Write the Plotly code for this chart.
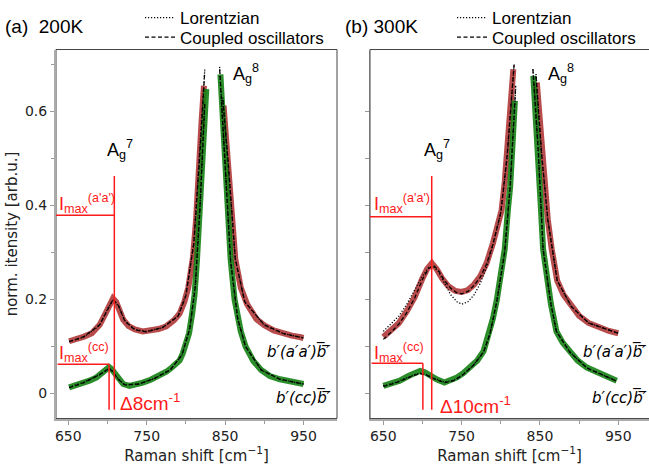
import plotly.graph_objects as go

# ---------------- data ----------------
# Panel (a) 200K, b'(a'a')b' data
x_aa200 = [651, 660, 670, 680, 690, 698, 703, 707, 711, 715, 720, 727, 735, 745, 755, 765, 775, 785, 792, 798, 803, 809, 813, 816, 820, 823,
           None, 848, 851, 854, 858, 863, 870, 878, 890, 900, 912, 925, 935, 945, 950]
y_aa200 = [0.111, 0.115, 0.121, 0.128, 0.146, 0.172, 0.192, 0.202, 0.195, 0.180, 0.157, 0.143, 0.136, 0.132, 0.133, 0.137, 0.143, 0.156, 0.170, 0.195, 0.225, 0.290, 0.370, 0.490, 0.580, 0.655,
           None, 0.613, 0.550, 0.490, 0.380, 0.286, 0.225, 0.190, 0.158, 0.145, 0.134, 0.127, 0.123, 0.120, 0.118]
# Panel (a) 200K, b'(cc)b' data
x_cc200 = [651, 665, 677, 686, 694, 699, 702, 705, 708, 711, 715, 720, 728, 737, 745, 755, 765, 775, 782, 788, 792, 796, 800, 804, 808, 811, 814, 817, 820, 823, 826,
           None, 844, 847, 850, 853, 857, 862, 866, 870, 876, 886, 896, 907, 920, 935, 950]
y_cc200 = [0.013, 0.020, 0.027, 0.034, 0.044, 0.050, 0.056, 0.052, 0.045, 0.038, 0.028, 0.020, 0.016, 0.019, 0.023, 0.029, 0.037, 0.046, 0.055, 0.063, 0.070, 0.085, 0.104, 0.128, 0.170, 0.210, 0.280, 0.370, 0.480, 0.560, 0.648,
           None, 0.679, 0.580, 0.490, 0.390, 0.286, 0.200, 0.160, 0.132, 0.100, 0.069, 0.050, 0.037, 0.030, 0.024, 0.020]
# Panel (a) fits
x_fit_aa200 = [651, 670, 690, 700, 707, 714, 722, 735, 750, 770, 790, 800, 810, 818, 824, None, 847, 854, 863, 875, 900, 925, 950]
y_lor_aa200 = [0.110, 0.120, 0.145, 0.180, 0.198, 0.186, 0.155, 0.136, 0.132, 0.140, 0.165, 0.210, 0.320, 0.520, 0.690, None, 0.630, 0.490, 0.286, 0.195, 0.145, 0.127, 0.118]
y_co_aa200 = [0.110, 0.121, 0.146, 0.178, 0.200, 0.187, 0.154, 0.135, 0.131, 0.140, 0.164, 0.208, 0.318, 0.515, 0.685, None, 0.625, 0.490, 0.286, 0.195, 0.146, 0.127, 0.118]
x_fit_cc200 = [651, 670, 690, 698, 702, 707, 713, 722, 740, 760, 780, 795, 805, 812, 818, 824, None, 843, 850, 857, 866, 876, 896, 920, 950]
y_lor_cc200 = [0.013, 0.024, 0.040, 0.048, 0.054, 0.047, 0.032, 0.018, 0.020, 0.032, 0.050, 0.082, 0.140, 0.230, 0.400, 0.620, None, 0.695, 0.490, 0.280, 0.158, 0.100, 0.050, 0.030, 0.020]
y_co_cc200 = [0.012, 0.023, 0.040, 0.049, 0.053, 0.046, 0.031, 0.018, 0.020, 0.032, 0.050, 0.082, 0.138, 0.228, 0.395, 0.615, None, 0.690, 0.490, 0.282, 0.160, 0.100, 0.050, 0.030, 0.020]

# Panel (b) 300K, b'(a'a')b' data
x_aa300 = [650, 660, 670, 680, 690, 700, 706, 712, 718, 725, 733, 742, 750, 758, 766, 774, 782, 790, 796, 801, 805, 808, 812, 816,
           None, 846, 849, 852, 856, 860, 865, 872, 880, 890, 900, 912, 925, 938, 950]
y_aa300 = [0.120, 0.135, 0.150, 0.175, 0.205, 0.245, 0.265, 0.277, 0.265, 0.245, 0.228, 0.218, 0.216, 0.220, 0.232, 0.250, 0.278, 0.320, 0.360, 0.390, 0.450, 0.510, 0.600, 0.690,
           None, 0.662, 0.600, 0.511, 0.430, 0.370, 0.307, 0.240, 0.210, 0.185, 0.165, 0.150, 0.140, 0.133, 0.128]
# Panel (b) 300K, b'(cc)b' data
x_cc300 = [650, 660, 671, 682, 692, 697, 703, 710, 718, 728, 736, 744, 752, 761, 770, 778, 786, 790, 795, 800, 805, 809, 812, 815, 818,
           None, 841.5, 845, 848, 851, 854, 858, 864, 871, 879, 888, 898, 910, 927, 940, 948]
y_cc300 = [0.016, 0.021, 0.027, 0.037, 0.046, 0.048, 0.045, 0.037, 0.030, 0.023, 0.027, 0.034, 0.043, 0.055, 0.070, 0.090, 0.132, 0.160, 0.200, 0.250, 0.307, 0.390, 0.441, 0.530, 0.623,
           None, 0.676, 0.590, 0.511, 0.400, 0.307, 0.250, 0.190, 0.132, 0.108, 0.090, 0.070, 0.055, 0.041, 0.032, 0.027]
# Panel (b) fits
x_fit_aa300 = [650, 660, 670, 680, 690, 700, 708, 714, 720, 728, 736, 744, 750, 758, 766, 774, 782, 790, 800, 808, 817, None, 845, 852, 860, 872, 890, 912, 950]
y_lor_aa300 = [0.132, 0.148, 0.165, 0.190, 0.220, 0.250, 0.268, 0.270, 0.260, 0.235, 0.210, 0.195, 0.190, 0.195, 0.210, 0.235, 0.270, 0.315, 0.385, 0.500, 0.700, None, 0.680, 0.511, 0.370, 0.240, 0.185, 0.150, 0.128]
y_co_aa300 = [0.115, 0.130, 0.148, 0.172, 0.203, 0.243, 0.266, 0.272, 0.263, 0.240, 0.224, 0.214, 0.212, 0.217, 0.230, 0.248, 0.276, 0.318, 0.385, 0.505, 0.700, None, 0.675, 0.511, 0.370, 0.240, 0.185, 0.150, 0.128]
x_fit_cc300 = [650, 665, 680, 690, 697, 705, 715, 728, 740, 752, 765, 778, 786, 795, 805, 812, 819, None, 841, 848, 854, 864, 871, 888, 910, 948]
y_lor_cc300 = [0.016, 0.023, 0.033, 0.040, 0.043, 0.040, 0.032, 0.024, 0.028, 0.040, 0.060, 0.088, 0.125, 0.195, 0.300, 0.440, 0.650, None, 0.690, 0.511, 0.307, 0.190, 0.132, 0.088, 0.054, 0.026]
y_co_cc300 = [0.015, 0.022, 0.032, 0.039, 0.042, 0.039, 0.031, 0.023, 0.027, 0.040, 0.060, 0.088, 0.126, 0.197, 0.302, 0.442, 0.655, None, 0.690, 0.511, 0.307, 0.190, 0.132, 0.088, 0.054, 0.026]

# positions of maxima marker lines (cm^-1) and Imax levels
peak_aa200, peak_cc200 = 708.7, 702.0
peak_aa300, peak_cc300 = 711.8, 700.5
imax_aa200, imax_cc200 = 0.379, 0.062
imax_aa300, imax_cc300 = 0.376, 0.064

x_ticks = [650, 750, 850, 950]
y_ticks = [0, 0.2, 0.4, 0.6]
y_tick_text = ["0", "0.2", "0.4", "0.6"]

# ---------------- figure ----------------
RED = "rgba(172,45,45,0.85)"
GREEN = "rgba(20,130,20,0.9)"
LRED = "#ff1a1a"
W, H = 649, 468
DASH = "4px,2.5px"
DOT = "1.2px,1.8px"

fig = go.Figure()

def add_panel(xa, ya, data, leg_lor, leg_co):
    (x_aa, y_aa, x_cc, y_cc, xf_aa, lor_aa, co_aa, xf_cc, lor_cc, co_cc) = data
    fig.add_trace(go.Scatter(x=x_aa, y=y_aa, mode="lines", line=dict(color=RED, width=6),
                             showlegend=False, xaxis=xa, yaxis=ya))
    fig.add_trace(go.Scatter(x=x_cc, y=y_cc, mode="lines", line=dict(color=GREEN, width=6),
                             showlegend=False, xaxis=xa, yaxis=ya))
    fig.add_trace(go.Scatter(x=xf_aa, y=lor_aa, mode="lines", name="Lorentzian",
                             line=dict(color="black", width=1.3, dash=DOT),
                             legend=leg_lor, showlegend=True, xaxis=xa, yaxis=ya))
    fig.add_trace(go.Scatter(x=xf_aa, y=co_aa, mode="lines", name="Coupled oscillators",
                             line=dict(color="black", width=1.3, dash=DASH),
                             legend=leg_co, showlegend=True, xaxis=xa, yaxis=ya))
    fig.add_trace(go.Scatter(x=xf_cc, y=lor_cc, mode="lines", line=dict(color="black", width=1.3, dash=DOT),
                             showlegend=False, xaxis=xa, yaxis=ya))
    fig.add_trace(go.Scatter(x=xf_cc, y=co_cc, mode="lines", line=dict(color="black", width=1.3, dash=DASH),
                             showlegend=False, xaxis=xa, yaxis=ya))

add_panel("x", "y",
          (x_aa200, y_aa200, x_cc200, y_cc200, x_fit_aa200, y_lor_aa200, y_co_aa200,
           x_fit_cc200, y_lor_cc200, y_co_cc200), "legend", "legend3")
add_panel("x2", "y2",
          (x_aa300, y_aa300, x_cc300, y_cc300, x_fit_aa300, y_lor_aa300, y_co_aa300,
           x_fit_cc300, y_lor_cc300, y_co_cc300), "legend2", "legend4")

XR = [634.3, 992.7]
XR2 = [633.0, 989.2]
YR = [-0.0535, 0.732]
dom_y = [(H - 418) / H, (H - 45) / H]

tickfont = dict(family="DejaVu Sans", size=14, color="#222")
titlefont = dict(family="DejaVu Sans", size=15, color="#222")
axis_common = dict(ticks="outside", ticklen=4, tickcolor="#999", showgrid=False, zeroline=False,
                   showline=True, linecolor="#aaa", linewidth=2, tickfont=tickfont)

def leg(xpx, ypx):
    return dict(x=xpx / W, y=1 - ypx / H, xanchor="left", yanchor="middle", bgcolor="rgba(0,0,0,0)",
                font=dict(family="Liberation Sans, Arial", size=17, color="black"),
                itemwidth=30, tracegroupgap=0)

fig.update_layout(
    width=W, height=H, margin=dict(l=0, r=0, t=0, b=0),
    paper_bgcolor="white", plot_bgcolor="white",
    font=dict(family="Liberation Sans, Arial", color="black"),
    xaxis=dict(domain=[56 / W, 337 / W], range=XR, tickvals=x_ticks, anchor="y",
               minor=dict(dtick=50, tick0=650, ticks="outside", ticklen=3, tickcolor="#999"),
               title=dict(text="Raman shift [cm<sup>−1</sup>]", font=titlefont, standoff=4),
               **axis_common),
    yaxis=dict(domain=dom_y, range=YR, tickvals=y_ticks, ticktext=y_tick_text, anchor="x",
               minor=dict(dtick=0.1, tick0=0, ticks="outside", ticklen=3, tickcolor="#999"),
               title=dict(text="norm. itensity [arb.u.]", font=titlefont, standoff=4),
               **axis_common),
    xaxis2=dict(domain=[370 / W, 1.0], range=XR2, tickvals=x_ticks, anchor="y2",
                minor=dict(dtick=50, tick0=650, ticks="outside", ticklen=3, tickcolor="#999"),
                title=dict(text="Raman shift [cm<sup>−1</sup>]", font=titlefont, standoff=4),
                **axis_common),
    yaxis2=dict(domain=dom_y, range=YR, tickvals=[0, 0.1, 0.2, 0.3, 0.4, 0.5, 0.6], showticklabels=False, anchor="x2",
                **{k: v for k, v in axis_common.items() if k not in ("linecolor", "linewidth")},
                linecolor="#777", linewidth=1),
    legend=leg(140, 13),
    legend3=leg(140, 33),
    legend2=leg(452, 13),
    legend4=leg(452, 33),
)

# frames (thin dark border); right panel extends past the picture edge
fig.add_shape(type="rect", xref="x domain", yref="y domain", x0=0, x1=1, y0=0, y1=1,
              line=dict(color="#444", width=1), layer="below")
fig.add_shape(type="rect", xref="x2 domain", yref="y2 domain", x0=0, x1=1.02, y0=0, y1=1,
              line=dict(color="#444", width=1), layer="below")

# red marker lines
def red_lines(xr, yr, xl, p_aa, p_cc, i_aa, i_cc):
    fig.add_shape(type="line", xref=xr, yref=yr, x0=p_aa, x1=p_aa, y0=-0.035, y1=0.463, line=dict(color=LRED, width=1.5))
    fig.add_shape(type="line", xref=xr, yref=yr, x0=p_cc, x1=p_cc, y0=-0.035, y1=i_cc, line=dict(color=LRED, width=1.5))
    fig.add_shape(type="line", xref=xr, yref=yr, x0=xl, x1=p_aa, y0=i_aa, y1=i_aa, line=dict(color=LRED, width=1.5))
    fig.add_shape(type="line", xref=xr, yref=yr, x0=xl + 2, x1=p_cc, y0=i_cc, y1=i_cc, line=dict(color=LRED, width=1.5))

red_lines("x", "y", XR[0], peak_aa200, peak_cc200, imax_aa200, imax_cc200)
red_lines("x2", "y2", XR2[0], peak_aa300, peak_cc300, imax_aa300, imax_cc300)

def ann(text, x, y, xref="paper", yref="paper", size=16, color="black", family="Liberation Sans, Arial",
        xanchor="left", yanchor="middle"):
    fig.add_annotation(text=text, x=x, y=y, xref=xref, yref=yref, showarrow=False,
                       font=dict(size=size, color=color, family=family), xanchor=xanchor, yanchor=yanchor)

def px_x(p):
    return p / W

def px_y(p):
    return 1 - p / H

# panel titles
ann("(a)  200K", px_x(3), px_y(22), size=19)
ann("(b) 300K", px_x(343), px_y(22), size=19)

# mode labels
for xr, yr, x7, x8 in (("x", "y", 716, 858), ("x2", "y2", 718, 858)):
    ann("A<sub>g</sub><sup>7</sup>", x7, 0.52, xref=xr, yref=yr, size=18, xanchor="center")
    ann("A<sub>g</sub><sup>8</sup>", x8, 0.68, xref=xr, yref=yr, size=18, xanchor="left")
    ann("I<sub>max</sub><sup>(a'a')</sup>", 636, 0.405, xref=xr, yref=yr, size=18, color=LRED)
    ann("I<sub>max</sub><sup>(cc)</sup>", 636, 0.088, xref=xr, yref=yr, size=18, color=LRED)

ann("Δ8cm<sup>-1</sup>", 713, -0.018, xref="x", yref="y", size=19, color=LRED)
ann("Δ10cm<sup>-1</sup>", 720, -0.024, xref="x2", yref="y2", size=19, color=LRED)

lab_aa = "<i>b′(a′a′)b\u0305′\u0305</i>"
lab_cc = "<i>b′(cc)b\u0305′\u0305</i>"
for xr, yr, xend in (("x", "y", 988), ("x2", "y2", 989)):
    ann(lab_aa, xend, 0.09, xref=xr, yref=yr, size=15, family="DejaVu Sans", xanchor="right")
    ann(lab_cc, xend, -0.008, xref=xr, yref=yr, size=15, family="DejaVu Sans", xanchor="right")

fig.write_html("out.html")
